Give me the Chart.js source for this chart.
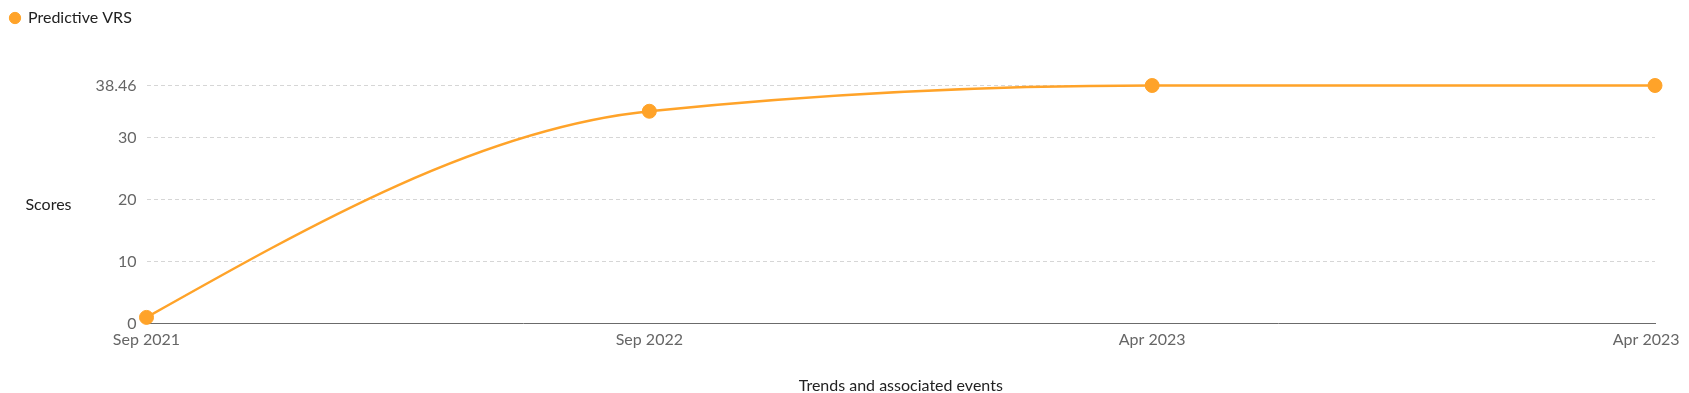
<!DOCTYPE html>
<html><head><meta charset="utf-8">
<script src="https://cdn.jsdelivr.net/npm/chart.js@4.4.0/dist/chart.umd.min.js"></script>
<style>html,body{margin:0;padding:0;background:#fff;overflow:hidden}</style>
</head><body>
<canvas id="c" width="1689" height="393" style="display:block;width:1689px;height:393px"></canvas>
<script>
const categories = ['Sep 2021', 'Sep 2022', 'Apr 2023', 'Apr 2023'];
const seriesName = 'Predictive VRS';
const scores = [1, 34.3, 38.46, 38.46];
const yMin = 0;
const yMax = 38.46;
const yStep = 10;
const yAxisLabel = 'Scores';
const xAxisLabel = 'Trends and associated events';

const ORANGE = '#FFA329';
const TEXT_DARK = '#222222';
const TEXT_GREY = '#666666';

// horizontal y-axis caption, centred on the plot area
const sideTitle = {
  id: 'sideTitle',
  afterDraw(chart) {
    const { ctx, chartArea } = chart;
    ctx.save();
    ctx.font = '16px Lato';
    ctx.fillStyle = TEXT_DARK;
    ctx.textAlign = 'center';
    ctx.textBaseline = 'middle';
    ctx.fillText(yAxisLabel, 48.5, (chartArea.top + chartArea.bottom) / 2);
    ctx.restore();
  }
};

// extra space under the legend
const legendGap = {
  id: 'legendGap',
  afterInit(chart) {
    const lg = chart.legend;
    if (!lg) return;
    const orig = lg.fit;
    lg.fit = function () { orig.call(this); this.height += 49.5; };
  }
};

// keep the last x label inside the canvas with a small margin
const keepLastLabelInside = {
  id: 'keepLastLabelInside',
  beforeDraw(chart) {
    const scale = chart.scales.x;
    if (!scale || !scale.getLabelItems) return;
    const items = scale.getLabelItems(chart.chartArea);
    if (!items.length) return;
    const last = items[items.length - 1];
    const ctx = chart.ctx;
    ctx.save();
    ctx.font = last.font.string;
    const w = ctx.measureText(String(last.label)).width;
    ctx.restore();
    const right = last.options.translation[0] + w / 2;
    const limit = chart.width - 9.5;
    if (right > limit) last.options.translation[0] -= (right - limit);
  }
};

// monotone-x cubic (d3 style) control points, computed from the element positions given by the scales
const monotoneX = {
  id: 'monotoneX',
  beforeDatasetsDraw(chart) {
    chart.getSortedVisibleDatasetMetas().forEach(meta => {
      const line = meta.dataset;
      const pts = meta.data;
      if (!line || !pts || pts.length < 2) return;
      if (line.updateControlPoints) line.updateControlPoints(chart.chartArea, 'x');
      const n = pts.length;
      const xs = pts.map(p => p.x), ys = pts.map(p => p.y);
      const h = [], s = [];
      for (let i = 0; i < n - 1; i++) { h[i] = xs[i + 1] - xs[i]; s[i] = (ys[i + 1] - ys[i]) / h[i]; }
      const sign = v => (v < 0 ? -1 : 1);
      const t = new Array(n);
      for (let i = 1; i < n - 1; i++) {
        const p = (s[i - 1] * h[i] + s[i] * h[i - 1]) / (h[i - 1] + h[i]);
        t[i] = (sign(s[i - 1]) + sign(s[i])) * Math.min(Math.abs(s[i - 1]), Math.abs(s[i]), 0.5 * Math.abs(p)) || 0;
      }
      if (n === 2) { t[0] = t[1] = s[0]; }
      else { t[0] = (3 * s[0] - t[1]) / 2; t[n - 1] = (3 * s[n - 2] - t[n - 2]) / 2; }
      for (let i = 0; i < n; i++) {
        const p = pts[i];
        if (i > 0) { const dx = h[i - 1] / 3; p.cp1x = xs[i] - dx; p.cp1y = ys[i] - dx * t[i]; }
        if (i < n - 1) { const dx = h[i] / 3; p.cp2x = xs[i] + dx; p.cp2y = ys[i] + dx * t[i]; }
      }
      line._pointsUpdated = true;
      line._path = undefined;
    });
  }
};

function draw() {
  Chart.defaults.font.family = 'Lato';
  Chart.defaults.font.size = 16;
  new Chart(document.getElementById('c'), {
    type: 'line',
    data: {
      labels: categories,
      datasets: [{
        label: seriesName,
        data: scores,
        borderColor: ORANGE,
        backgroundColor: ORANGE,
        pointBackgroundColor: ORANGE,
        pointBorderColor: ORANGE,
        borderWidth: 2.5,
        pointRadius: 7,
        pointBorderWidth: 1,
        cubicInterpolationMode: 'monotone',
        clip: false
      }]
    },
    options: {
      responsive: false,
      animation: false,
      layout: { padding: { left: 0, right: 0, top: 0, bottom: 0 } },
      plugins: {
        legend: {
          position: 'top',
          align: 'start',
          labels: {
            usePointStyle: true,
            pointStyle: 'circle',
            boxWidth: 10,
            boxHeight: 8,
            color: TEXT_DARK,
            font: { size: 16, family: 'Lato' },
            padding: 10
          }
        },
        tooltip: { enabled: false }
      },
      scales: {
        x: {
          type: 'category',
          offset: false,
          grid: { display: false, drawTicks: false },
          border: { display: true, color: '#6b6b6b', width: 1 },
          ticks: { color: TEXT_GREY, font: { size: 16 }, padding: 7, maxRotation: 0, autoSkip: false },
          title: { display: true, text: xAxisLabel, color: TEXT_DARK, font: { size: 16 }, padding: { top: 19, bottom: -2 } },
          afterFit(scale) { scale.paddingRight = 34; }
        },
        y: {
          min: yMin,
          max: yMax,
          grid: { color: '#d6d6d6', lineWidth: 1, drawTicks: false },
          border: { display: false, dash: [4, 3] },
          ticks: {
            stepSize: yStep,
            color: TEXT_GREY,
            font: { size: 16 },
            padding: 10,
            callback: (v) => String(v)
          },
          afterFit(scale) { scale.width = 146.5; }
        }
      }
    },
    plugins: [sideTitle, legendGap, keepLastLabelInside, monotoneX]
  });
}
if (document.fonts && document.fonts.load) {
  document.fonts.load('16px Lato').then(draw, draw);
} else { draw(); }
</script>
</body></html>
